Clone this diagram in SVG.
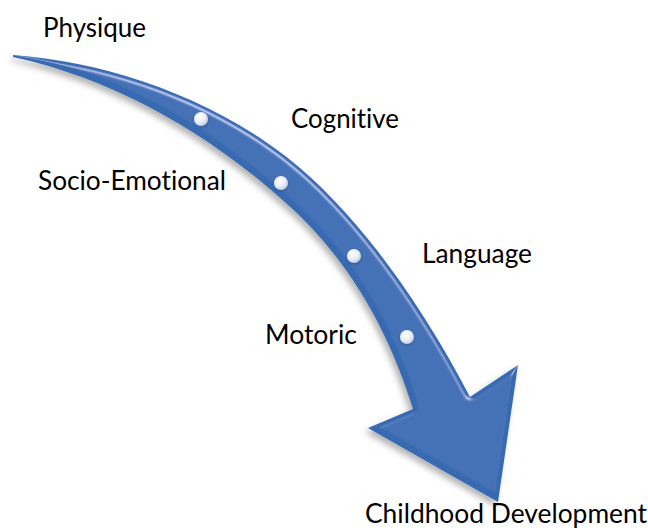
<svg xmlns="http://www.w3.org/2000/svg" width="648" height="528" viewBox="0 0 648 528">
  <style>
    .lbl { font-family: Lato, "Liberation Sans", sans-serif; font-size: 26px; fill: #000; font-variant-ligatures: none; }
  </style>
  <defs>
    <filter id="bevel" x="-10%" y="-10%" width="120%" height="125%">
      <feGaussianBlur in="SourceAlpha" stdDeviation="2.5" result="blur"/>
      <feSpecularLighting in="blur" surfaceScale="4" specularConstant="0.9" specularExponent="40" lighting-color="#ffffff" result="spec">
        <feDistantLight azimuth="300" elevation="45"/>
      </feSpecularLighting>
      <feComposite in="spec" in2="SourceAlpha" operator="in" result="specIn"/>
      <feComposite in="SourceGraphic" in2="specIn" operator="arithmetic" k1="0" k2="1" k3="0.5" k4="0" result="lit"/>
      <feGaussianBlur in="SourceAlpha" stdDeviation="3" result="sb"/>
      <feOffset in="sb" dx="-3" dy="4" result="so"/>
      <feFlood flood-color="#000" flood-opacity="0.3"/>
      <feComposite in2="so" operator="in" result="shadow"/>
      <feMerge>
        <feMergeNode in="shadow"/>
        <feMergeNode in="lit"/>
      </feMerge>
    </filter>
    <filter id="dotsh" x="-50%" y="-50%" width="200%" height="200%">
      <feDropShadow dx="0" dy="1" stdDeviation="1" flood-color="#1d3a66" flood-opacity="0.5"/>
    </filter>
    <radialGradient id="dot" cx="0.4" cy="0.35" r="0.7">
      <stop offset="0" stop-color="#ffffff"/>
      <stop offset="0.6" stop-color="#e6ecf6"/>
      <stop offset="1" stop-color="#b7c6de"/>
    </radialGradient>
  </defs>

  <g id="connectors">
    <g id="arrow" filter="url(#bevel)">
      <path d="M13,55 C110,62 220,100 300,168 C370,228 430,320 470,397 L518,365 L498,502 L368,428 L413,409 C393,345 360,275 300,216 C220,140 120,80 13,57 Z" fill="#376AB2"/>
    </g>
  </g>

  <g id="dots" filter="url(#dotsh)">
    <circle cx="201" cy="119" r="7" fill="url(#dot)"/>
    <circle cx="281" cy="183" r="7" fill="url(#dot)"/>
    <circle cx="354" cy="256" r="7" fill="url(#dot)"/>
    <circle cx="407" cy="337" r="7" fill="url(#dot)"/>
  </g>

  <g id="physique"><text class="lbl" x="43" y="37" textLength="103" lengthAdjust="spacingAndGlyphs">Physique</text></g>
  <g id="cognitive"><text class="lbl" x="291" y="128" textLength="108" lengthAdjust="spacingAndGlyphs">Cognitive</text></g>
  <g id="socio-emotional"><text class="lbl" x="38" y="190" textLength="188" lengthAdjust="spacingAndGlyphs">Socio-Emotional</text></g>
  <g id="language"><text class="lbl" x="422" y="263" textLength="110" lengthAdjust="spacingAndGlyphs">Language</text></g>
  <g id="motoric"><text class="lbl" x="265" y="344" textLength="92" lengthAdjust="spacingAndGlyphs">Motoric</text></g>
  <g id="childhood-development"><text class="lbl" x="365" y="523" textLength="282" lengthAdjust="spacingAndGlyphs">Childhood Development</text></g>
</svg>
